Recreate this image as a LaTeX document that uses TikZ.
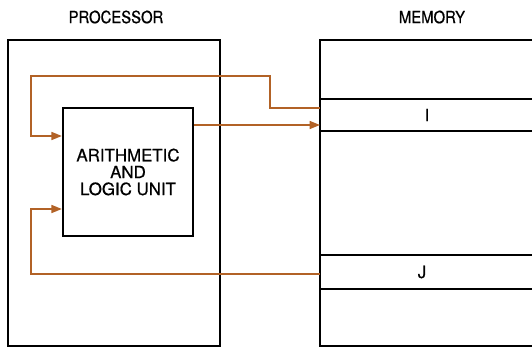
\documentclass[tikz,border=0pt]{standalone}
\usepackage{fontspec}
\setmainfont{TeX Gyre Heros}[FakeBold=0.6]
\newfontfamily\headfont{TeX Gyre Heros}[FakeStretch=0.88,FakeBold=0.6]
\usetikzlibrary{arrows.meta}
\definecolor{wire}{RGB}{178,98,38}

\begin{document}
\begin{tikzpicture}[x=0.025cm,y=-0.025cm,
  unit/.style={draw,line width=1.6pt,inner sep=0pt,align=center,
    font=\fontsize{12}{12}\selectfont},
  bus/.style={draw=wire,line width=1.1pt,-{Triangle[length=2.6mm,width=2mm]}},
  lbl/.style={font=\headfont\fontsize{12}{14}\selectfont,inner sep=0pt}]
\useasboundingbox (0,0) rectangle (532,349);
\node[lbl] (ptitle) at (116,17) {PROCESSOR};
\node[lbl] (mtitle) at (432,17) {MEMORY};
\node[draw,line width=2pt,minimum width=5.3cm,minimum height=7.65cm] (proc) at (114,193) {};
\node[unit,minimum width=3.25cm,minimum height=3.2cm] (alu) at (128,172) {ARITHMETIC\\AND\\LOGIC UNIT};
% memory column, open at the right
\draw[line width=2pt] (532,40) -| (320,346) -- (532,346);
\draw[line width=1.5pt] (320,99) -- (532,99) (320,131) -- (532,131);
\draw[line width=1.5pt] (320,255) -- (532,255) (320,289) -- (532,289);
\node[lbl,font=\fontsize{12}{12}\selectfont] (I) at (427,115) {I};
\node[lbl,font=\fontsize{12}{12}\selectfont] (J) at (422,272) {J};
\coordinate (rI) at (320,108);
\coordinate (wI) at (320,125);
\coordinate (rJ) at (320,274);
\draw[bus] (rI) -- (270,108) |- (31,76) |- (alu.west |- 0,136);
\draw[bus] (alu.east |- 0,125) -- (wI);
\draw[bus] (rJ) -| (31,209) -- (alu.west |- 0,209);
\end{tikzpicture}
\end{document}
